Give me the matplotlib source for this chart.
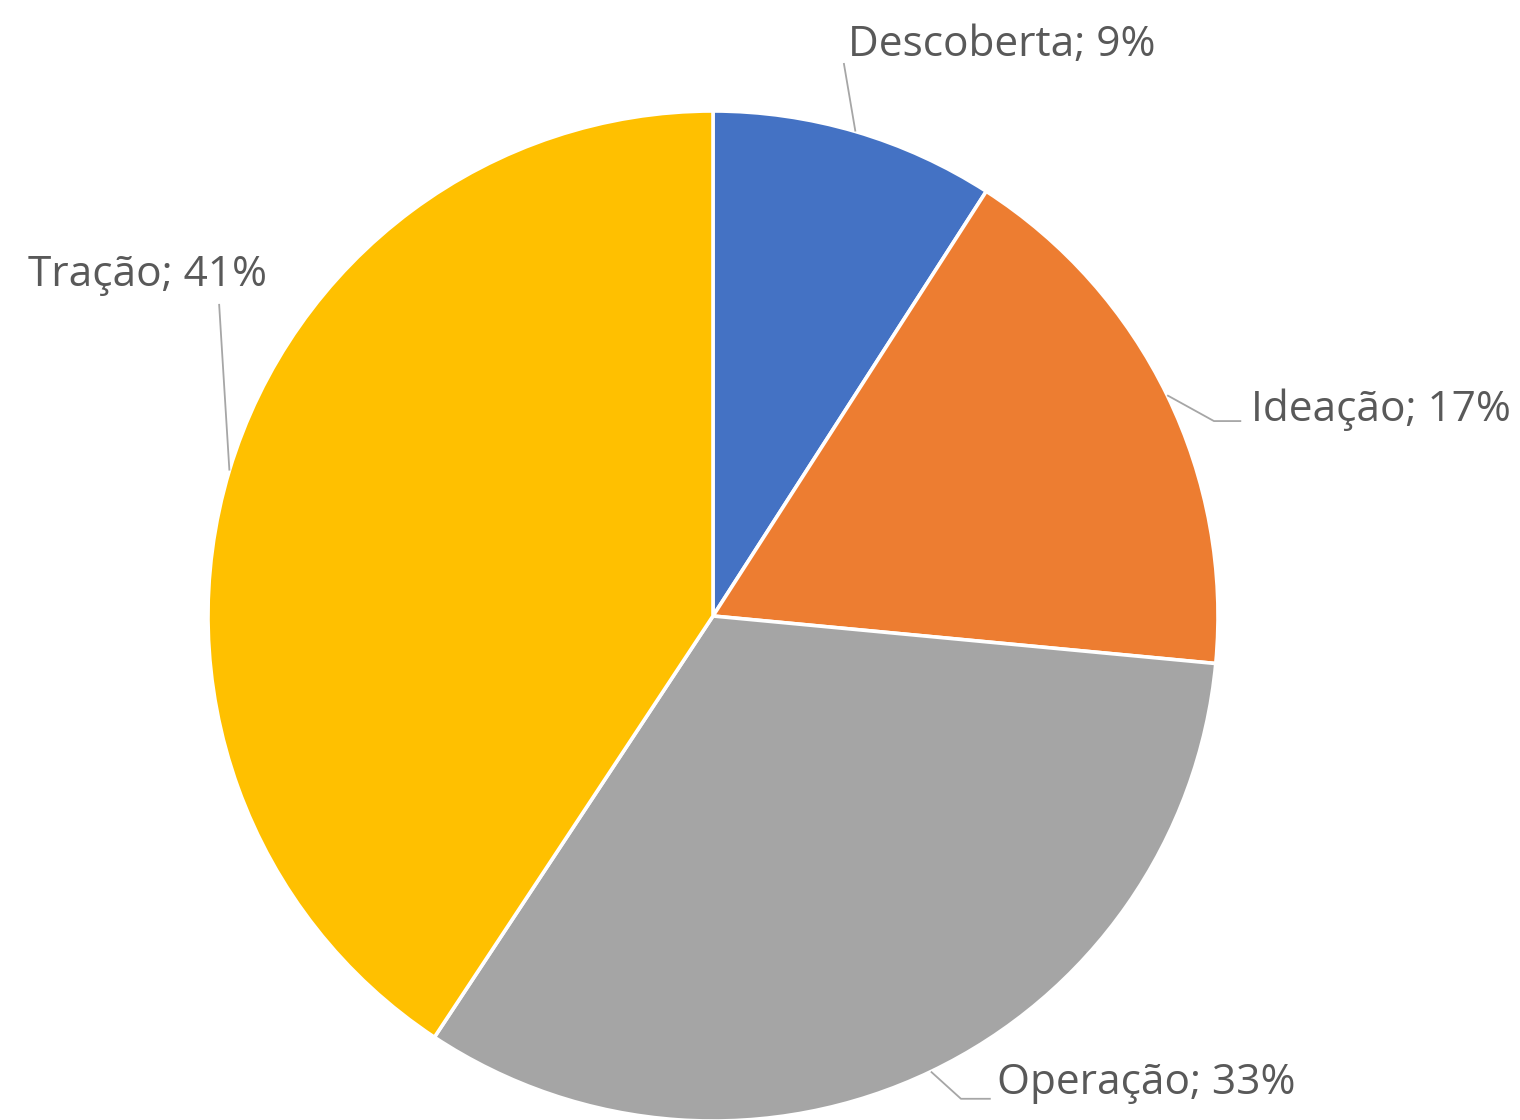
import numpy as np
import matplotlib
matplotlib.use("Agg")
import matplotlib.pyplot as plt

categories = ["Descoberta", "Ideação", "Operação", "Tração"]
shares     = [9.1, 17.4, 32.8, 40.7]
colors     = ["#4472C4", "#ED7D31", "#A5A5A5", "#FFC000"]

# label text position (left edge, vertical centre) and leader line path,
# in pie units (radius = 1)
label_pos = [(0.267, 1.131), (1.065, 0.408), (0.562, -0.925), (-1.356, 0.675)]
leader_pts = [
    [(0.259, 1.095)],
    [(0.992, 0.386), (1.046, 0.386)],
    [(0.491, -0.956), (0.550, -0.956)],
    [(-0.978, 0.618)],
]

W, H = 1520, 1120
cx, cy, r = 713, 616, 505

fig = plt.figure(figsize=(W / 100, H / 100), dpi=100)
ax = fig.add_axes([(cx - r) / W, (H - cy - r) / H, 2 * r / W, 2 * r / H])

wedges, _ = ax.pie(shares, colors=colors, startangle=90, counterclock=False,
                   radius=1, wedgeprops=dict(edgecolor="white", linewidth=2.6))
for w in wedges:
    w.set_clip_on(False)

ax.set_xlim(-1, 1)
ax.set_ylim(-1, 1)
ax.set_aspect("auto")
ax.axis("off")

for w, cat, val, (tx, ty), pts in zip(wedges, categories, shares, label_pos, leader_pts):
    mid = np.deg2rad((w.theta1 + w.theta2) / 2)
    xs = [np.cos(mid)] + [p[0] for p in pts]
    ys = [np.sin(mid)] + [p[1] for p in pts]
    ax.plot(xs, ys, color="#A6A6A6", lw=1.3, clip_on=False, solid_capstyle="butt")
    ax.text(tx, ty, f"{cat}; {round(val)}%", ha="left", va="center",
            fontsize=30.5, color="#595959", family="Open Sans", clip_on=False)

fig.savefig("out.png", dpi=100, facecolor="white")
